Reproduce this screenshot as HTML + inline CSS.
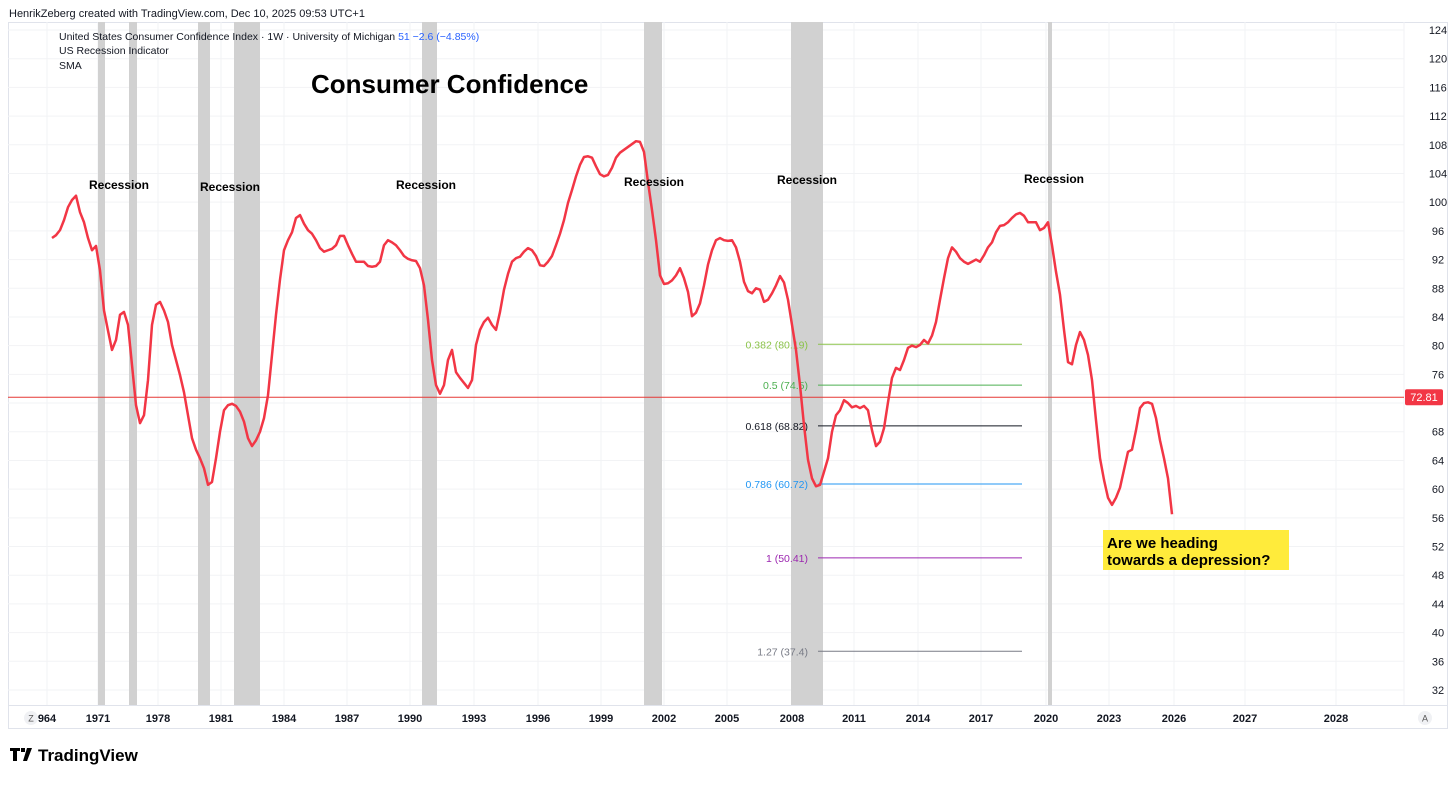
<!DOCTYPE html>
<html><head><meta charset="utf-8"><style>
body{margin:0;background:#fff;width:1456px;height:780px;overflow:hidden;font-family:"Liberation Sans",sans-serif}
</style></head><body>
<svg id="chart" width="1456" height="780" xmlns="http://www.w3.org/2000/svg" font-family="Liberation Sans, sans-serif">
<text x="9" y="17" font-size="11" fill="#131722">HenrikZeberg created with TradingView.com, Dec 10, 2025 09:53 UTC+1</text>
<rect x="8.5" y="22.5" width="1439" height="706" fill="none" stroke="#e0e3eb"/>
<line x1="8" y1="705.5" x2="1448" y2="705.5" stroke="#e0e3eb"/>
<line x1="1404" y1="22" x2="1404" y2="705" stroke="#f0f1f4"/>
<g id="grid"></g>
<g id="bands"></g>
<g id="fib"></g>
<g id="series"></g>
<g id="labels"></g>
<g id="axes"></g>
<text x="59" y="40" font-size="10.5" fill="#131722">United States Consumer Confidence Index · 1W · University of Michigan <tspan fill="#2962ff">51  −2.6 (−4.85%)</tspan></text>
<text x="59" y="54" font-size="10.5" fill="#131722">US Recession Indicator</text>
<text x="59" y="69" font-size="10.5" fill="#131722">SMA</text>
<text x="311" y="93" font-size="26" font-weight="bold" fill="#000">Consumer Confidence</text>
<rect x="1103" y="530" width="186" height="40" fill="#ffeb3b"/>
<text x="1107" y="548" font-size="15" font-weight="bold" fill="#000"><tspan x="1107">Are we heading</tspan><tspan x="1107" dy="17">towards a depression?</tspan></text>
<circle cx="31" cy="718" r="7" fill="#f0f1f4"/>
<text x="31" y="721.5" font-size="9" fill="#555" text-anchor="middle">Z</text>
<circle cx="1425" cy="718" r="7" fill="#f0f1f4"/>
<text x="1425" y="721.5" font-size="9" fill="#555" text-anchor="middle">A</text>
<g>
<path d="M10 748h10v3h-3v10h-4v-10h-3z M21 748h4v4h-4z M27 748h5l-5 13h-4z" fill="#000"/>
<text x="38" y="761" font-size="17" font-weight="bold" fill="#000">TradingView</text>
</g>
</svg>
<script>
const values=[95.0,95.4,96.1,97.5,99.3,100.3,100.9,98.6,97.2,95.0,93.3,93.9,90.5,84.9,82.1,79.4,80.8,84.3,84.7,82.9,77.3,71.7,69.2,70.3,75.2,82.9,85.7,86.1,84.9,83.3,80.1,78.0,75.9,73.5,70.3,67.1,65.5,64.3,62.9,60.6,61.0,64.3,68.0,71.0,71.7,71.9,71.6,70.8,69.4,67.1,66.0,66.8,68.0,69.9,73.1,78.7,84.3,89.2,93.3,94.7,95.8,97.8,98.2,97.0,96.1,95.6,94.7,93.6,93.1,93.3,93.5,94.0,95.3,95.3,94.0,92.8,91.7,91.7,91.7,91.1,91.0,91.1,91.7,94.0,94.7,94.4,94.0,93.3,92.5,92.1,91.9,91.8,90.8,88.4,83.6,78.0,74.5,73.3,74.5,78.0,79.4,76.3,75.5,74.8,74.1,75.2,80.1,82.2,83.3,83.9,82.9,82.2,84.7,87.8,90.0,91.7,92.2,92.4,93.1,93.6,93.3,92.5,91.2,91.1,91.7,92.5,94.0,95.6,97.5,99.9,101.7,103.6,105.2,106.3,106.4,106.2,105.0,103.9,103.6,103.8,104.8,106.2,106.9,107.3,107.7,108.1,108.5,108.4,107.0,102.8,98.9,94.7,89.8,88.6,88.7,89.1,89.8,90.8,89.4,87.5,84.1,84.6,85.9,88.4,91.3,93.3,94.7,95.0,94.7,94.6,94.7,93.7,91.7,88.9,87.6,87.3,88.0,87.8,86.1,86.4,87.3,88.4,89.7,88.8,86.4,82.9,79.4,74.5,68.9,64.1,61.5,60.4,60.6,62.4,64.3,68.0,70.3,71.0,72.4,72.0,71.4,71.6,71.3,71.6,71.0,68.2,66.0,66.6,68.5,72.1,75.5,76.9,76.6,78.0,79.7,80.0,79.8,80.1,80.8,80.3,81.4,83.3,86.4,89.4,92.2,93.7,93.1,92.2,91.7,91.4,91.7,92.0,91.7,92.6,93.7,94.4,95.8,96.7,96.8,97.2,97.8,98.3,98.5,98.1,97.2,97.2,97.2,96.1,96.4,97.2,94.0,90.3,87.1,82.2,77.7,77.4,80.1,81.9,80.8,78.7,75.2,69.6,64.3,61.3,58.8,57.8,58.8,60.2,62.7,65.2,65.5,68.2,71.3,72.0,72.1,71.9,69.9,66.8,64.3,61.5,56.5];
const recessionStarts=[11.5,19.25,36.5,45.5,92.5,148,184.75,249];
const recessionEnds=[13.25,21.25,39.5,52,96.25,152.5,192.75,250];
const recessionLabelIdx=[16.75,44.5,93.5,150.5,188.75,250.5];
const recessionLabelY=[189,191,189,186,184,183];
const fibRatios=["0.382","0.5","0.618","0.786","1","1.27"];
const fibValues=[80.19,74.5,68.82,60.72,50.41,37.4];
const fibColors=["#8bc34a","#4caf50","#131722","#2196f3","#9c27b0","#787b86"];
const fibStartIdx=191.5, fibEndIdx=242.5;
const refValue=72.81;
const yTicks=[32,36,40,44,48,52,56,60,64,68,72,76,80,84,88,92,96,100,104,108,112,116,120,124];
const xTickLabels=["964","1971","1978","1981","1984","1987","1990","1993","1996","1999","2002","2005","2008","2011","2014","2017","2020","2023","2026","2027","2028"];
const xTickIdx=[-1.25,11.5,26.5,42.25,58,73.75,89.5,105.5,121.5,137.25,153,168.75,185,200.5,216.5,232.25,248.5,264.25,280.5,298.25,321];

const NS="http://www.w3.org/2000/svg";
const X=i=>52+i*4;
const Y=v=>30+(124-v)*7.174;
function mk(tag,attrs,parent,txt){const e=document.createElementNS(NS,tag);for(const k in attrs)e.setAttribute(k,attrs[k]);if(txt!==undefined)e.textContent=txt;document.getElementById(parent).appendChild(e);return e;}
yTicks.forEach(v=>{
  const l=mk('line',{x1:8,x2:1404,y1:Y(v),y2:Y(v),stroke:'#f2f3f5'},'grid');
  
  
  if(Math.abs(v-refValue)<3)return;
  const t=mk('text',{x:1438,y:Y(v)+4,'font-size':11,fill:'#131722','text-anchor':'middle'},'axes',v);
  
  
});
xTickLabels.forEach((s,k)=>{
  const x=X(xTickIdx[k]);
  const l=mk('line',{x1:x,x2:x,y1:22,y2:705,stroke:'#f2f3f5'},'grid');
  
  
  const t=mk('text',{x:x,y:722,'font-size':11,'font-weight':'bold',fill:'#131722','text-anchor':'middle'},'axes',s);
  
  
});
recessionStarts.forEach((s,k)=>{
  const r=mk('rect',{x:X(s),y:22,width:Math.max(3,X(recessionEnds[k])-X(s)),height:683,fill:'#d1d1d1'},'bands');
  
  
});
recessionLabelIdx.forEach((c,k)=>{
  const t=mk('text',{x:X(c),y:recessionLabelY[k],'font-size':12,'font-weight':'bold',fill:'#000','text-anchor':'middle'},'labels','Recession');
  
  
});
fibValues.forEach((v,k)=>{
  const l=mk('line',{x1:X(fibStartIdx),x2:X(fibEndIdx),y1:Y(v),y2:Y(v),stroke:fibColors[k],'stroke-width':1},'fib');
  
  
  const t=mk('text',{x:X(fibStartIdx)-10,y:Y(v)+4,'font-size':10.5,fill:fibColors[k],'text-anchor':'end'},'fib',fibRatios[k]+' ('+v+')');
  
  
});
const ref=mk('line',{x1:8,x2:1404,y1:Y(refValue),y2:Y(refValue),stroke:'#e53935','stroke-width':1},'series');


const rb=mk('rect',{x:1405,y:Y(refValue)-8,width:38,height:16,rx:2,fill:'#f23645'},'axes');


const rt=mk('text',{x:1424,y:Y(refValue)+4,'font-size':11,fill:'#fff','text-anchor':'middle'},'axes',refValue);


const p=mk('path',{d:values.map((v,i)=>(i?'L':'M')+X(i)+' '+Y(v)).join(''),fill:'none',stroke:'#f23645','stroke-width':2.5,'stroke-linejoin':'round'},'series');


</script>
</body></html>
